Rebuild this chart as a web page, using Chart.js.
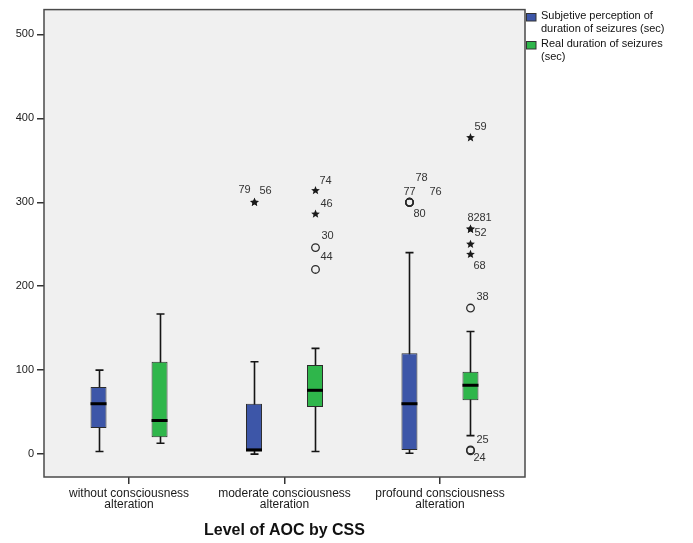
<!DOCTYPE html>
<html>
<head>
<meta charset="utf-8">
<script src="https://cdn.jsdelivr.net/npm/chart.js@4.4.1/dist/chart.umd.min.js"></script>
<style>
  html, body { margin: 0; padding: 0; background: #fff; }
  #wrap { width: 693px; height: 543px; position: relative; }
</style>
</head>
<body>
<div id="wrap"><canvas id="aocChart"></canvas></div>
<script>
const categories = [
  ["without consciousness", "alteration"],
  ["moderate consciousness", "alteration"],
  ["profound consciousness", "alteration"]
];
const seriesNames = [
  ["Subjetive perception of", "duration of seizures (sec)"],
  ["Real duration of seizures", "(sec)"]
];
const yTicks = [0, 100, 200, 300, 400, 500];

// box plot summaries per group (sec)
const subjMin = [3, 0, 1];
const subjQ1 = [31, 3, 5];
const subjMedian = [60, 5, 60];
const subjQ3 = [80, 60, 120];
const subjMax = [100, 110, 240];

const realMin = [13, 3, 22];
const realQ1 = [20, 56, 64];
const realMedian = [40, 76, 82];
const realQ3 = [110, 106, 98];
const realMax = [167, 126, 146];

// outliers: [group, value, case number, kind]  "o" = outlier, "*" = extreme
const subjOutliers = [
  [1, 300, "79", "*"], [1, 300, "56", "*"],
  [2, 300, "78", "o"], [2, 300, "77", "o"], [2, 300, "76", "o"], [2, 300, "80", "o"]
];
const realOutliers = [
  [1, 314, "74", "*"], [1, 286, "46", "*"], [1, 246, "30", "o"], [1, 220, "44", "o"],
  [2, 377, "59", "*"], [2, 268, "82", "*"], [2, 268, "81", "*"], [2, 250, "52", "*"],
  [2, 238, "68", "*"], [2, 174, "38", "o"], [2, 5, "25", "o"], [2, 4, "24", "o"]
];

// where the case number sits relative to its marker (px)
const subjLabelOffsets = [[-10, -12], [11, -11], [12, -24], [0, -10], [26, -10], [10, 12]];
const realLabelOffsets = [[10, -10], [11, -10], [12, -12], [11, -12], [10, -11], [3, -11],
  [15, -11], [10, -11], [9, 12], [12, -11], [12, -10], [9, 7]];

const colors = ["#3d56a8", "#2fb64b"];
const FONT = "'Liberation Sans', Arial, sans-serif";

const stats = [
  { min: subjMin, q1: subjQ1, med: subjMedian, q3: subjQ3, max: subjMax, out: subjOutliers, off: subjLabelOffsets },
  { min: realMin, q1: realQ1, med: realMedian, q3: realQ3, max: realMax, out: realOutliers, off: realLabelOffsets }
];

function drawStar(ctx, x, y, r) {
  ctx.beginPath();
  for (let i = 0; i < 10; i++) {
    const rad = i % 2 === 0 ? r : r * 0.45;
    const a = -Math.PI / 2 + i * Math.PI / 5;
    const px = x + rad * Math.cos(a), py = y + rad * Math.sin(a);
    if (i === 0) ctx.moveTo(px, py); else ctx.lineTo(px, py);
  }
  ctx.closePath();
  ctx.fill();
}

const boxPlugin = {
  id: "boxExtras",
  beforeDraw(chart) {
    const { ctx, chartArea: a } = chart;
    ctx.save();
    ctx.fillStyle = "#f0f0f0";
    ctx.fillRect(a.left, a.top, a.right - a.left, a.bottom - a.top);
    ctx.restore();
  },
  beforeDatasetsDraw(chart) {
    // whiskers go under the boxes
    const { ctx } = chart;
    const y = chart.scales.y;
    ctx.save();
    ctx.strokeStyle = "#151515";
    ctx.lineWidth = 1.6;
    stats.forEach((s, d) => {
      chart.getDatasetMeta(d).data.forEach((bar, g) => {
        const x = Math.round(bar.x) + 0.5;
        const top = y.getPixelForValue(s.max[g]);
        const bot = y.getPixelForValue(s.min[g]);
        ctx.beginPath();
        ctx.moveTo(x, top); ctx.lineTo(x, bot);
        ctx.moveTo(x - 4, top); ctx.lineTo(x + 4, top);
        ctx.moveTo(x - 4, bot); ctx.lineTo(x + 4, bot);
        ctx.stroke();
      });
    });
    ctx.restore();
  },
  afterDatasetsDraw(chart) {
    const { ctx } = chart;
    const y = chart.scales.y;
    ctx.save();
    stats.forEach((s, d) => {
      const meta = chart.getDatasetMeta(d);
      meta.data.forEach((bar, g) => {
        const half = bar.width / 2;
        const my = y.getPixelForValue(s.med[g]);
        ctx.strokeStyle = "#000";
        ctx.lineWidth = 3;
        ctx.beginPath();
        ctx.moveTo(bar.x - half, my); ctx.lineTo(bar.x + half, my);
        ctx.stroke();
      });
      s.out.forEach((o, i) => {
        const bar = meta.data[o[0]];
        const px = Math.round(bar.x) + 0.5, py = y.getPixelForValue(o[1]);
        if (o[3] === "*") {
          ctx.fillStyle = "#1a1a1a";
          drawStar(ctx, px, py, 4.6);
        } else {
          ctx.strokeStyle = "#2a2a2a";
          ctx.lineWidth = 1.3;
          ctx.beginPath();
          ctx.arc(px, py, 3.8, 0, Math.PI * 2);
          ctx.stroke();
        }
        ctx.fillStyle = "#333";
        ctx.font = "11px " + FONT;
        ctx.textAlign = "center";
        ctx.textBaseline = "middle";
        ctx.fillText(o[2], px + s.off[i][0], py + s.off[i][1]);
      });
    });
    ctx.restore();
  },
  afterDraw(chart) {
    const { ctx, chartArea: a } = chart;
    ctx.save();
    ctx.strokeStyle = "#4a4a4a";
    ctx.lineWidth = 1.5;
    ctx.strokeRect(a.left, a.top, a.right - a.left, a.bottom - a.top);
    // legend beside the plot frame
    ctx.font = "11px " + FONT;
    ctx.textAlign = "left";
    ctx.textBaseline = "middle";
    seriesNames.forEach((lines, d) => {
      const top = 13 + d * 28;
      ctx.fillStyle = colors[d];
      ctx.fillRect(a.right + 1, top, 10, 8);
      ctx.strokeStyle = "#333";
      ctx.lineWidth = 1;
      ctx.strokeRect(a.right + 1.5, top + 0.5, 9.5, 7.5);
      ctx.fillStyle = "#111";
      lines.forEach((t, k) => ctx.fillText(t, a.right + 16, top + 2.5 + k * 13));
    });
    ctx.restore();
  }
};

new Chart(document.getElementById("aocChart"), {
  type: "bar",
  data: {
    datasets: stats.map((s, d) => ({
      label: seriesNames[d].join(" "),
      data: s.q1.map((v, g) => ({ x: g, y: [v, s.q3[g]] })),
      backgroundColor: colors[d],
      borderColor: "#2b2b2b",
      borderWidth: 1,
      borderSkipped: false,
      categoryPercentage: 0.785,
      barPercentage: 0.262
    }))
  },
  options: {
    responsive: true,
    maintainAspectRatio: false,
    animation: false,
    events: [],
    layout: { padding: { top: 7, right: 168, left: 0, bottom: 0 } },
    plugins: { legend: { display: false }, tooltip: { enabled: false } },
    scales: {
      x: {
        type: "linear",
        offset: false,
        min: -0.547,
        max: 2.547,
        afterBuildTicks: s => { s.ticks = categories.map((c, i) => ({ value: i })); },
        afterFit: s => { s.height = 66; },
        grid: { offset: false, drawOnChartArea: false, drawTicks: true, tickLength: 7, color: "#333", lineWidth: 1.5 },
        border: { display: false },
        ticks: {
          callback: v => categories[v],
          font: { family: FONT, size: 12, lineHeight: 0.92 },
          color: "#1a1a1a",
          padding: 4,
          maxRotation: 0,
          autoSkip: false
        },
        title: {
          display: true,
          text: "Level of AOC by CSS",
          font: { family: FONT, size: 16, weight: "bold" },
          color: "#111",
          padding: { top: 0, bottom: 3 }
        }
      },
      y: {
        min: -27.3,
        max: 529.6,
        afterBuildTicks: s => { s.ticks = yTicks.map(v => ({ value: v })); },
        afterFit: s => { s.width = 44; },
        grid: { drawOnChartArea: false, drawTicks: true, tickLength: 7, color: "#333", lineWidth: 1.5 },
        border: { display: false },
        ticks: { font: { family: FONT, size: 11 }, color: "#1a1a1a", padding: 3 }
      }
    }
  },
  plugins: [boxPlugin]
});
</script>
</body>
</html>
